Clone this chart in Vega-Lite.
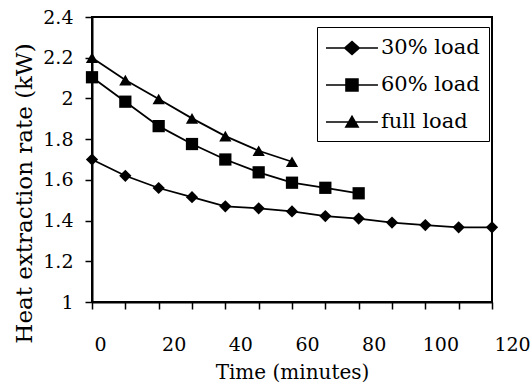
{
  "$schema": "https://vega.github.io/schema/vega-lite/v6.json",
  "width": 400,
  "height": 285,
  "autosize": {"type": "none"},
  "padding": {"left": 92, "top": 17, "right": 40, "bottom": 87},
  "background": "white",
  "config": {
    "view": {"stroke": "black", "strokeWidth": 2},
    "font": "DejaVu Serif",
    "axis": {
      "grid": false,
      "domainColor": "black",
      "domainWidth": 2,
      "tickColor": "black",
      "tickWidth": 1.5,
      "tickSize": 7,
      "labelFont": "DejaVu Serif",
      "labelFontSize": 19,
      "labelColor": "black",
      "titleFont": "DejaVu Serif",
      "titleFontSize": 20,
      "titleFontWeight": "normal",
      "titleColor": "black"
    },
    "legend": {
      "labelFont": "DejaVu Serif"
    }
  },
  "data": {
    "values": [
      {"time": 0, "rate": 1.70, "load": "30% load"},
      {"time": 10, "rate": 1.62, "load": "30% load"},
      {"time": 20, "rate": 1.56, "load": "30% load"},
      {"time": 30, "rate": 1.515, "load": "30% load"},
      {"time": 40, "rate": 1.47, "load": "30% load"},
      {"time": 50, "rate": 1.46, "load": "30% load"},
      {"time": 60, "rate": 1.445, "load": "30% load"},
      {"time": 70, "rate": 1.422, "load": "30% load"},
      {"time": 80, "rate": 1.41, "load": "30% load"},
      {"time": 90, "rate": 1.39, "load": "30% load"},
      {"time": 100, "rate": 1.378, "load": "30% load"},
      {"time": 110, "rate": 1.367, "load": "30% load"},
      {"time": 120, "rate": 1.367, "load": "30% load"},
      {"time": 0, "rate": 2.104, "load": "60% load"},
      {"time": 10, "rate": 1.984, "load": "60% load"},
      {"time": 20, "rate": 1.864, "load": "60% load"},
      {"time": 30, "rate": 1.776, "load": "60% load"},
      {"time": 40, "rate": 1.70, "load": "60% load"},
      {"time": 50, "rate": 1.637, "load": "60% load"},
      {"time": 60, "rate": 1.586, "load": "60% load"},
      {"time": 70, "rate": 1.561, "load": "60% load"},
      {"time": 80, "rate": 1.534, "load": "60% load"},
      {"time": 0, "rate": 2.2, "load": "full load"},
      {"time": 10, "rate": 2.09, "load": "full load"},
      {"time": 20, "rate": 1.997, "load": "full load"},
      {"time": 30, "rate": 1.902, "load": "full load"},
      {"time": 40, "rate": 1.815, "load": "full load"},
      {"time": 50, "rate": 1.743, "load": "full load"},
      {"time": 60, "rate": 1.689, "load": "full load"}
    ]
  },
  "encoding": {
    "x": {
      "field": "time",
      "type": "quantitative",
      "scale": {"domain": [0, 120], "nice": false, "zero": false},
      "axis": {
        "title": "Time (minutes)",
        "values": [0, 10, 20, 30, 40, 50, 60, 70, 80, 90, 100, 110, 120],
        "labelExpr": "datum.value % 20 == 0 ? datum.label : ''",
        "labelFlush": false,
        "labelOverlap": false,
        "labelOffset": {
          "condition": [
            {"test": "datum.value == 0", "value": 8},
            {"test": "datum.value == 120", "value": 20}
          ],
          "value": 15
        },
        "labelPadding": 26,
        "titlePadding": 8
      }
    },
    "y": {
      "field": "rate",
      "type": "quantitative",
      "scale": {"domain": [1, 2.4], "nice": false, "zero": false},
      "axis": {
        "title": "Heat extraction rate (kW)",
        "titleFontSize": 23,
        "titleY": 176,
        "values": [1, 1.2, 1.4, 1.6, 1.8, 2, 2.2, 2.4],
        "format": "~g",
        "labelFlush": false,
        "labelPadding": 12,
        "titlePadding": 6
      }
    }
  },
  "layer": [
    {
      "mark": {"type": "line", "color": "black", "strokeWidth": 1.8},
      "encoding": {"detail": {"field": "load"}}
    },
    {
      "mark": {"type": "point", "filled": true, "color": "black", "opacity": 1, "size": 150},
      "encoding": {
        "shape": {
          "field": "load",
          "type": "nominal",
          "scale": {"domain": ["30% load", "60% load", "full load"], "range": ["diamond", "square", "triangle-up"]},
          "legend": null
        }
      }
    },
    {
      "mark": {"type": "point", "filled": true, "color": "black", "opacity": 0},
      "encoding": {
        "shape": {
          "field": "load",
          "type": "nominal",
          "scale": {
            "domain": ["30% load", "60% load", "full load"],
            "range": [
              "M-1,-0.065H3.33V0.065H-1ZM1.167,-0.62L1.87,0L1.167,0.62L0.46,0Z",
              "M-1,-0.065H3.33V0.065H-1ZM0.6,-0.56H1.73V0.56H0.6Z",
              "M-1,-0.065H3.33V0.065H-1ZM1.167,-0.6L1.79,0.48L0.54,0.48Z"
            ]
          },
          "legend": {
            "title": null,
            "orient": "none",
            "legendX": 225,
            "legendY": 10,
            "padding": 9,
            "strokeColor": "black",
            "fillColor": "white",
            "symbolSize": 576,
            "symbolOpacity": 1,
            "symbolFillColor": "black",
            "symbolStrokeWidth": 0,
            "labelFont": "DejaVu Serif",
            "labelFontSize": 21,
            "labelColor": "black",
            "labelOffset": 31,
            "rowPadding": 15
          }
        }
      }
    }
  ],
  "resolve": {"scale": {"shape": "independent"}, "legend": {"shape": "independent"}}
}
